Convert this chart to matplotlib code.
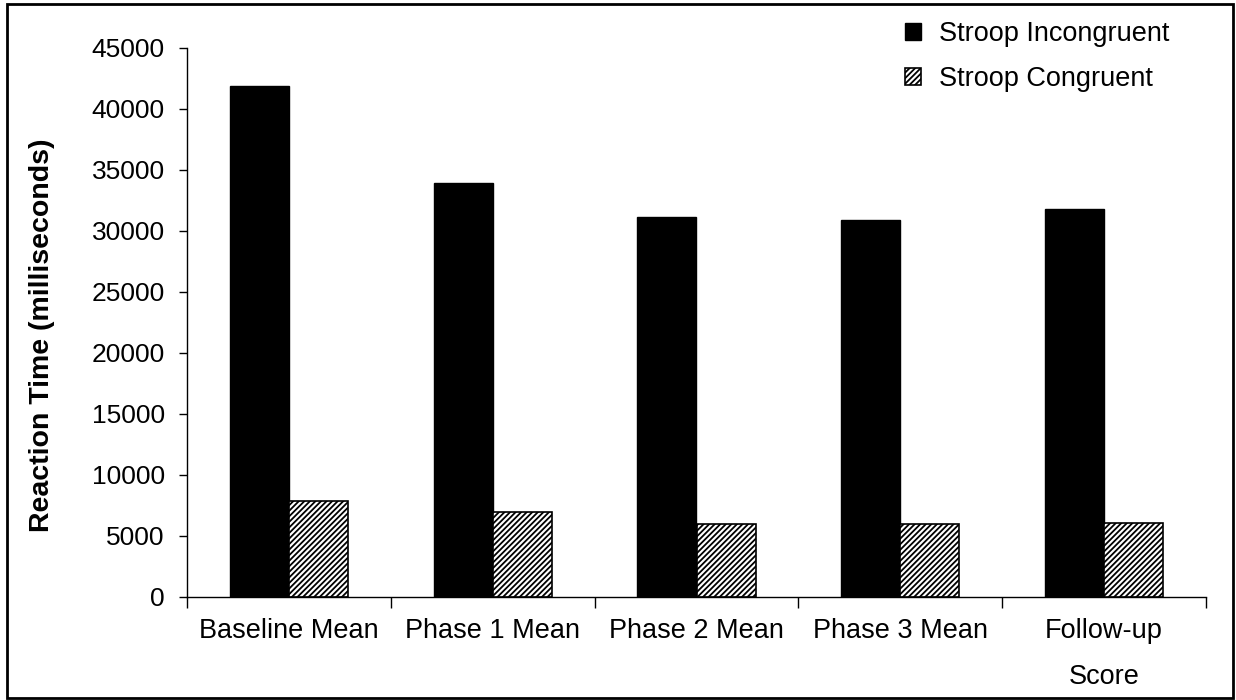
import numpy as np
import matplotlib.pyplot as plt
from matplotlib.patches import Rectangle

plt.rcParams['font.family'] = ['Liberation Sans', 'DejaVu Sans']
plt.rcParams['hatch.linewidth'] = 1.3

categories = ['Baseline Mean', 'Phase 1 Mean', 'Phase 2 Mean',
              'Phase 3 Mean', 'Follow-up\nScore']
incongruent = [41850, 33950, 31150, 30850, 31800]
congruent = [7900, 7000, 5950, 5950, 6050]

fig = plt.figure(figsize=(12.36, 7.0), dpi=100)
ax = fig.add_axes([187 / 1236, 1 - 597 / 700, (1206 - 187) / 1236, (597 - 47.7) / 700])

x = np.arange(len(categories))
w = 0.29
ax.bar(x - w / 2, incongruent, w, color='black', edgecolor='black',
       lw=1, label='Stroop Incongruent')
ax.bar(x + w / 2, congruent, w, color='white', edgecolor='black',
       lw=1.2, hatch='//////', label='Stroop Congruent')

ax.set_xlim(-0.5, len(categories) - 0.5)
ax.set_ylim(0, 45000)
ax.set_yticks(np.arange(0, 45001, 5000))
ax.set_xticks(np.arange(-0.5, len(categories), 1.0))
ax.set_xticklabels([])
ax.set_xticks(x, minor=True)
ax.set_xticklabels(categories, minor=True, fontsize=19.5, linespacing=2.0)
ax.tick_params(axis='x', which='minor', length=0, pad=15)
ax.tick_params(axis='x', which='major', direction='out', length=8, width=1)
ax.tick_params(axis='y', direction='out', length=6, width=1, labelsize=19, pad=10)

for s in ['top', 'right']:
    ax.spines[s].set_visible(False)
for s in ['left', 'bottom']:
    ax.spines[s].set_linewidth(1)

ax.set_ylabel('Reaction Time (milliseconds)', fontsize=20.5, fontweight='bold')
ax.yaxis.set_label_coords(-0.1295, 0.477)

ax.legend(loc='upper left', bbox_to_anchor=(0.694, 1.068), frameon=False,
          fontsize=19.5, handlelength=0.6, handleheight=0.6,
          handletextpad=0.65, labelspacing=0.7, borderaxespad=0)

# frame around the whole figure
fig.patches.append(Rectangle((7 / 1236, 2 / 700), 1226 / 1236, 694 / 700,
                             transform=fig.transFigure, fill=False,
                             edgecolor='black', lw=2))

fig.savefig('out.png', dpi=100, facecolor='white')
